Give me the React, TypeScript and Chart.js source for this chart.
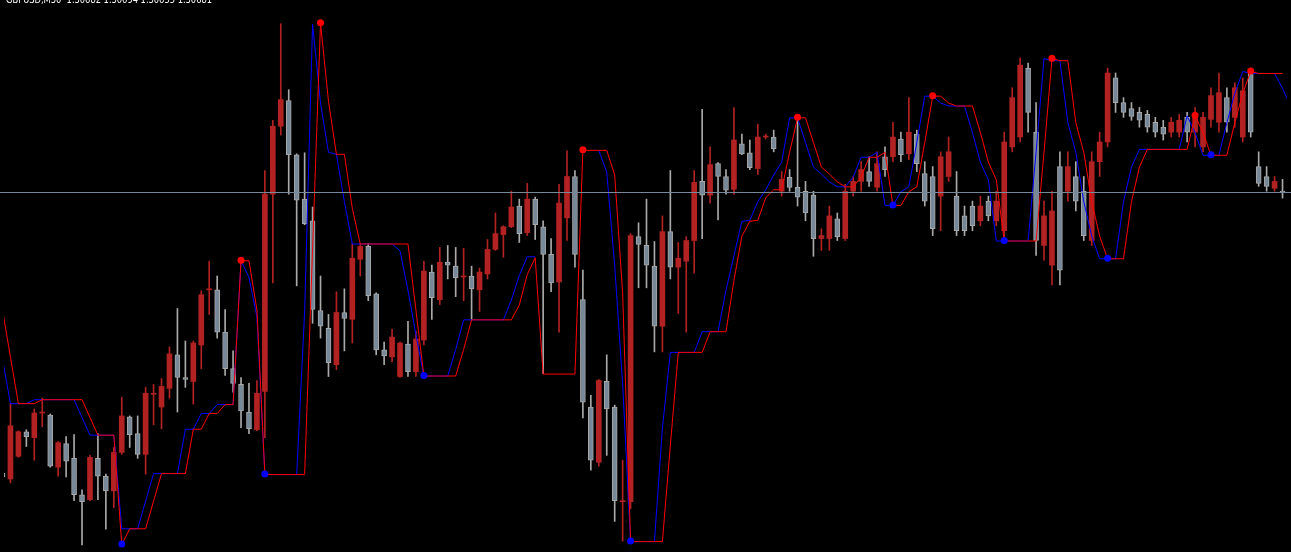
import React, { useEffect, useRef } from "react";
import { Chart, registerables } from "chart.js";

Chart.register(...registerables);

// Header text
const SYMBOL = "GBPUSD,M30";
const QUOTE = ["1.30682", "1.30694", "1.30655", "1.30681"];

// Prices are expressed in points (0.00001) above 1.30000
const BID = 681;
const Y_MIN = 320;
const Y_MAX = 872;

const OPEN = [396,390,413,438,432,457,455,402,426,411,374,369,411,393,378,417,453,436,415,476,463,482,516,493,489,526,582,582,539,502,486,458,440,479,679,748,774,719,674,652,561,543,506,559,552,613,626,578,521,514,494,527,499,531,600,572,610,606,595,596,582,598,623,638,646,667,640,674,646,618,590,655,697,572,463,407,489,463,367,367,636,627,606,545,641,605,611,632,692,678,710,697,684,730,721,705,737,737,682,696,686,682,678,634,634,654,634,682,692,702,686,717,717,735,720,740,700,697,677,697,677,657,667,652,672,652,642,727,737,807,742,627,607,707,682,697,682,632,712,732,797,772,766,762,760,752,747,742,742,757,742,727,755,752,777,757,737,802,707,697,685,682];
const HIGH = [398,467,439,440,461,472,456,428,433,435,379,414,436,395,422,473,454,454,483,486,492,524,563,530,530,581,611,596,562,520,493,487,490,703,754,852,785,720,721,666,596,557,580,583,629,629,629,579,529,542,529,550,540,611,607,625,627,625,624,606,604,633,660,647,682,674,690,676,652,634,689,723,703,602,475,491,516,465,409,639,650,674,631,657,703,630,636,703,765,727,711,704,767,740,734,750,740,744,702,704,760,692,682,644,667,660,689,697,712,717,722,727,752,742,777,744,712,707,722,737,702,667,672,677,677,682,742,787,817,812,772,672,682,722,722,712,697,722,742,807,802,777,772,767,764,757,754,757,760,762,767,762,787,802,787,792,797,807,722,707,697,694];
const LOW = [390,386,412,423,409,443,402,393,392,368,323,368,369,339,361,415,422,411,395,445,441,472,458,483,466,502,557,533,495,478,442,436,439,432,589,739,679,586,648,548,533,494,501,520,528,596,571,516,506,509,493,494,494,526,552,567,593,575,571,552,560,593,622,615,645,630,637,633,497,580,539,632,605,452,399,403,414,347,327,360,584,584,519,519,593,558,539,599,634,670,653,679,679,719,704,699,735,722,677,682,667,652,616,622,622,632,632,677,682,687,682,697,712,712,714,702,667,637,642,692,637,637,642,647,652,647,632,722,732,742,617,612,587,587,672,662,632,627,697,727,762,757,754,747,742,737,734,737,737,732,727,722,747,742,742,747,732,737,687,682,682,675];
const CLOSE = [392,444,438,433,457,457,403,427,408,374,367,412,393,378,417,454,435,415,477,476,484,517,493,491,528,577,582,539,502,487,459,441,477,679,748,775,719,673,649,562,545,508,559,553,614,626,576,521,515,534,528,499,532,601,574,610,607,594,595,583,600,623,639,646,666,639,674,648,618,589,670,697,618,468,409,490,461,368,367,637,628,607,545,641,605,614,632,691,678,709,697,683,734,720,706,737,737,725,694,686,676,660,634,637,657,636,682,692,704,692,710,704,737,719,742,710,672,644,717,722,642,642,647,667,657,672,732,777,810,762,632,657,662,602,707,672,637,712,732,802,772,762,758,754,747,742,740,752,754,742,759,757,779,782,752,787,784,742,690,687,692,681];

// Channel indicator (red = upper trail, blue = leading trail), null = no value
const RED_LINE = [562,514,467,467,467,471,471,471,471,471,471,453,435,435,435,324,340,340,340,368,396,396,396,396,441,441,457,457,466,466,612,612,562,395,395,395,395,395,395,624,853,774,720,720,665,629,629,629,629,629,629,629,562,495,495,495,495,495,522,552,552,552,552,552,552,567,598,615,497,497,497,497,497,724,724,724,724,699,579,327,327,327,327,327,425,519,519,519,519,540,540,540,592,637,652,653,676,684,684,722,757,757,732,707,700,692,687,687,697,717,717,722,668,668,682,687,732,779,779,772,769,769,769,742,712,694,632,632,632,632,632,722,817,815,815,752,722,672,637,614,614,614,672,707,725,725,725,725,725,725,759,742,719,719,719,752,782,804,802,802,802,802];
const BLUE_LINE = [512,467,467,467,471,471,471,471,471,471,453,435,435,435,435,340,340,340,368,396,396,396,396,441,441,457,457,466,466,466,612,595,555,395,395,395,395,395,560,852,772,722,720,672,629,629,629,629,629,629,622,582,537,495,495,495,495,522,552,552,552,552,552,552,572,597,616,616,null,null,null,null,null,null,null,724,702,607,487,327,327,327,327,442,519,519,519,519,540,540,540,582,617,652,653,672,684,699,712,757,757,732,707,700,692,687,687,697,717,717,722,668,668,682,687,732,779,779,772,769,769,769,742,712,694,632,632,632,632,632,722,817,815,815,752,722,672,637,614,614,614,672,707,725,725,725,725,725,725,759,742,719,719,719,752,782,804,802,802,802,802,787,769];

// Turning points of the red trail (bar indexes)
const RED_DOTS = [30, 40, 73, 100, 117, 132, 150, 157];
const BLUE_DOTS = [15, 33, 53, 79, 112, 126, 139, 152];

const BULL = "#b22222";
const BEAR_FILL = "#778899";
const BEAR_EDGE = "#a9a9a9";

export default function App() {
  const ref = useRef<HTMLCanvasElement | null>(null);

  useEffect(() => {
    const canvas = ref.current;
    if (!canvas) return;
    document.body.style.margin = "0";
    document.body.style.background = "#000";

    const idx = OPEN.map((_, i) => i);
    const isBull = (i: number) => CLOSE[i] >= OPEN[i];
    const body = (i: number) => {
      const a = OPEN[i];
      const b = CLOSE[i];
      if (Math.abs(a - b) < 1) return [a, a + 1];
      return [Math.min(a, b), Math.max(a, b)];
    };

    const bullBodies = idx.filter(isBull).map((i) => ({ x: i, y: body(i) }));
    const bearBodies = idx.filter((i) => !isBull(i)).map((i) => ({ x: i, y: body(i) }));
    const wicks = idx.map((i) => ({ x: i, y: [LOW[i], HIGH[i]] }));
    const wickColors = idx.map((i) => (isBull(i) ? BULL : BEAR_EDGE));

    const overlay = {
      id: "bidAndTitle",
      beforeDatasetDraw(chart: any, args: any) {
        if (args.meta.type === "line") {
          chart.ctx.save();
          chart.ctx.translate(0, 0.5);
        }
      },
      afterDatasetDraw(chart: any, args: any) {
        if (args.meta.type === "line") chart.ctx.restore();
      },
      afterDatasetsDraw(chart: any) {
        const ctx = chart.ctx;
        const y = chart.scales.y.getPixelForValue(BID);
        ctx.save();
        ctx.fillStyle = "#778899";
        ctx.fillRect(0, Math.round(y), chart.width, 1);
        ctx.restore();
      },
      afterDraw(chart: any) {
        const ctx = chart.ctx;
        ctx.save();
        ctx.fillStyle = "#ffffff";
        ctx.font = '11px Tahoma, "DejaVu Sans", sans-serif';
        ctx.textBaseline = "alphabetic";
        ctx.fillText(SYMBOL + "  " + QUOTE.join(" "), 6, 3, 206);
        ctx.restore();
      },
    };

    const chart = new Chart(canvas, {
      type: "bar",
      data: {
        datasets: [
          {
            type: "scatter",
            data: RED_DOTS.map((i) => ({ x: i, y: RED_LINE[i] })),
            pointRadius: 3.5,
            pointBackgroundColor: "#ff0000",
            pointBorderWidth: 0,
          } as any,
          {
            type: "scatter",
            data: BLUE_DOTS.map((i) => ({ x: i, y: RED_LINE[i] })),
            pointRadius: 3.5,
            pointBackgroundColor: "#0000ff",
            pointBorderWidth: 0,
          } as any,
          {
            type: "line",
            data: RED_LINE.map((v, i) => ({ x: i, y: v })),
            borderColor: "#ff0000",
            borderWidth: 1,
            pointRadius: 0,
            tension: 0,
            spanGaps: false,
          } as any,
          {
            type: "line",
            data: BLUE_LINE.map((v, i) => ({ x: i, y: v })),
            borderColor: "#0000ff",
            borderWidth: 1,
            pointRadius: 0,
            tension: 0,
            spanGaps: false,
          } as any,
          {
            type: "bar",
            data: bearBodies,
            backgroundColor: BEAR_FILL,
            borderColor: BEAR_EDGE,
            borderWidth: 1,
            borderSkipped: false,
            barThickness: 5,
            grouped: false,
          } as any,
          {
            type: "bar",
            data: bullBodies,
            backgroundColor: BULL,
            borderWidth: 0,
            barThickness: 5,
            grouped: false,
          } as any,
          {
            type: "bar",
            data: wicks,
            backgroundColor: wickColors,
            borderWidth: 0,
            barThickness: 1,
            grouped: false,
          } as any,
        ],
      },
      options: {
        animation: false,
        responsive: false,
        devicePixelRatio: 1,
        events: [],
        layout: { padding: 0 },
        plugins: { legend: { display: false }, tooltip: { enabled: false } },
        scales: {
          x: {
            type: "linear",
            min: 0.1875,
            max: 0.1875 + 161.375,
            offset: false,
            display: false,
            grid: { offset: false },
          },
          y: { type: "linear", min: Y_MIN, max: Y_MAX, display: false },
        },
      },
      plugins: [overlay],
    });
    return () => chart.destroy();
  }, []);

  return (
    <div style={{ position: "fixed", left: 0, top: 0, width: 1291, height: 552, background: "#000" }}>
      <canvas ref={ref} width={1291} height={552} style={{ display: "block" }} />
    </div>
  );
}
